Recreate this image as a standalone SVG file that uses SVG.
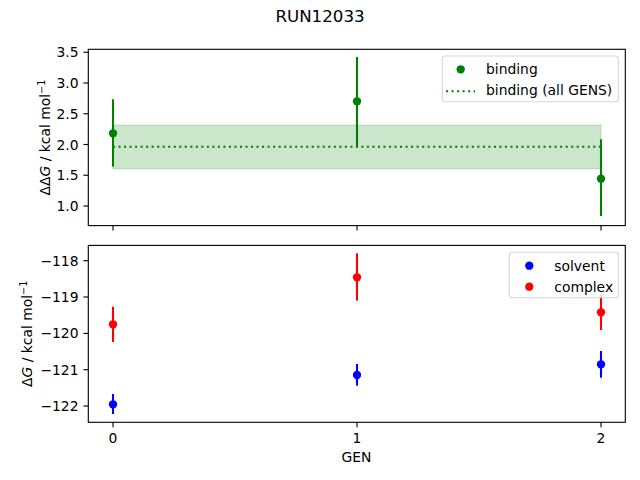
<svg xmlns="http://www.w3.org/2000/svg" width="640" height="480" viewBox="0 0 640 480">
<style>
text{font-family:"DejaVu Sans","Liberation Sans",sans-serif;font-size:13.89px;fill:#000}
.spine{fill:none;stroke:#000;stroke-width:1.11}
.tick{stroke:#000;stroke-width:1.11}
.yt{text-anchor:end}
.xt{text-anchor:middle}
.eg{stroke:#008000;stroke-width:2.08}
.er{stroke:#ff0000;stroke-width:2.08}
.eb{stroke:#0000ff;stroke-width:2.08}
.leg{fill:#fff;fill-opacity:0.8;stroke:#cccccc;stroke-opacity:0.8;stroke-width:1.11}
</style>
<rect width="640" height="480" fill="#fff"/>
<text x="320" y="21.5" text-anchor="middle" style="font-size:16.67px">RUN12033</text>

<g id="top-axes">
<rect x="113" y="125" width="488" height="44" fill="#008000" fill-opacity="0.2" stroke="#008000" stroke-opacity="0.2" stroke-width="1"/>
<line x1="113" y1="146.7" x2="601" y2="146.7" stroke="#008000" stroke-width="2.08" stroke-dasharray="2.08 3.44"/>
<g id="binding">
<line class="eg" x1="113" y1="99.3" x2="113" y2="166.7"/>
<circle cx="113" cy="133.3" r="4.17" fill="#008000"/>
<line class="eg" x1="357" y1="57" x2="357" y2="147.5"/>
<circle cx="357" cy="101.3" r="4.17" fill="#008000"/>
<line class="eg" x1="601" y1="139.3" x2="601" y2="216"/>
<circle cx="601" cy="178.7" r="4.17" fill="#008000"/>
</g>
<rect class="spine" x="88.3" y="49.3" width="537" height="176.3"/>
<g class="tick">
<line x1="83.4" y1="52.25" x2="88.3" y2="52.25"/>
<line x1="83.4" y1="83" x2="88.3" y2="83"/>
<line x1="83.4" y1="113.75" x2="88.3" y2="113.75"/>
<line x1="83.4" y1="144.5" x2="88.3" y2="144.5"/>
<line x1="83.4" y1="175.25" x2="88.3" y2="175.25"/>
<line x1="83.4" y1="206" x2="88.3" y2="206"/>
<line x1="113" y1="225.6" x2="113" y2="230.5"/>
<line x1="357" y1="225.6" x2="357" y2="230.5"/>
<line x1="601" y1="225.6" x2="601" y2="230.5"/>
</g>
<text class="yt" x="78.5" y="57.3">3.5</text>
<text class="yt" x="78.5" y="88">3.0</text>
<text class="yt" x="78.5" y="118.8">2.5</text>
<text class="yt" x="78.5" y="149.5">2.0</text>
<text class="yt" x="78.5" y="180.3">1.5</text>
<text class="yt" x="78.5" y="211">1.0</text>
<text transform="translate(49.5,137.5) rotate(-90)" text-anchor="middle">ΔΔ<tspan font-style="italic">G</tspan> / kcal mol<tspan font-size="9.7" dy="-5">−1</tspan></text>
<g id="legend-top">
<rect class="leg" x="442.3" y="56" width="176" height="45.7" rx="2.8"/>
<circle cx="460.7" cy="69.3" r="4.17" fill="#008000"/>
<line x1="446" y1="91.2" x2="475" y2="91.2" stroke="#008000" stroke-width="2.08" stroke-dasharray="2.08 3.44"/>
<text x="486" y="74">binding</text>
<text x="486" y="95.3">binding (all GENS)</text>
</g>
</g>

<g id="bottom-axes">
<g id="complex">
<line class="er" x1="113" y1="306.7" x2="113" y2="342"/>
<circle cx="113" cy="324.3" r="4.17" fill="#ff0000"/>
<line class="er" x1="357" y1="253.3" x2="357" y2="300.7"/>
<circle cx="357" cy="277.3" r="4.17" fill="#ff0000"/>
<line class="er" x1="601" y1="294.6" x2="601" y2="330"/>
<circle cx="601" cy="312.3" r="4.17" fill="#ff0000"/>
</g>
<g id="solvent">
<line class="eb" x1="113" y1="394" x2="113" y2="414"/>
<circle cx="113" cy="404.3" r="4.17" fill="#0000ff"/>
<line class="eb" x1="357" y1="364" x2="357" y2="385.7"/>
<circle cx="357" cy="375" r="4.17" fill="#0000ff"/>
<line class="eb" x1="601" y1="351" x2="601" y2="377.7"/>
<circle cx="601" cy="364.3" r="4.17" fill="#0000ff"/>
</g>
<rect class="spine" x="88.3" y="245.4" width="537" height="176.9"/>
<g class="tick">
<line x1="83.4" y1="260.7" x2="88.3" y2="260.7"/>
<line x1="83.4" y1="297" x2="88.3" y2="297"/>
<line x1="83.4" y1="333.4" x2="88.3" y2="333.4"/>
<line x1="83.4" y1="369.7" x2="88.3" y2="369.7"/>
<line x1="83.4" y1="406" x2="88.3" y2="406"/>
<line x1="113" y1="422.3" x2="113" y2="427.2"/>
<line x1="357" y1="422.3" x2="357" y2="427.2"/>
<line x1="601" y1="422.3" x2="601" y2="427.2"/>
</g>
<text class="yt" x="78.5" y="265.7">−118</text>
<text class="yt" x="78.5" y="302">−119</text>
<text class="yt" x="78.5" y="338.4">−120</text>
<text class="yt" x="78.5" y="374.7">−121</text>
<text class="yt" x="78.5" y="411">−122</text>
<text class="xt" x="113" y="442.5">0</text>
<text class="xt" x="357" y="442.5">1</text>
<text class="xt" x="601" y="442.5">2</text>
<text class="xt" x="356.5" y="462.3">GEN</text>
<text transform="translate(31.5,333.8) rotate(-90)" text-anchor="middle">Δ<tspan font-style="italic">G</tspan> / kcal mol<tspan font-size="9.7" dy="-5">−1</tspan></text>
<g id="legend-bottom">
<rect class="leg" x="509.3" y="252.3" width="109" height="45.4" rx="2.8"/>
<circle cx="529.3" cy="265.7" r="4.17" fill="#0000ff"/>
<circle cx="529.3" cy="286.7" r="4.17" fill="#ff0000"/>
<text x="554.3" y="270.5">solvent</text>
<text x="554.3" y="291.5">complex</text>
</g>
</g>
</svg>
